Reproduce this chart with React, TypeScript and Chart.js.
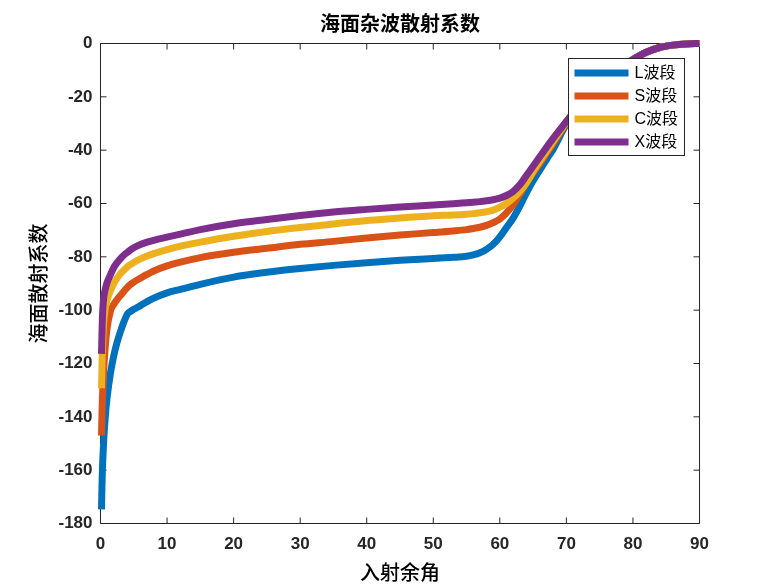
import React, { useEffect, useRef } from "react";
import { Chart, registerables } from "chart.js";

Chart.register(...registerables);

const chartTitle = "海面杂波散射系数";
const xAxisTitle = "入射余角";
const yAxisTitle = "海面散射系数";
const bandLabels = ["L波段", "S波段", "C波段", "X波段"];
const bandColors = ["#0072BD", "#D95319", "#EDB120", "#7E2F8E"];

const xTickMin = 0;
const xTickMax = 90;
const xTickStep = 10;
const yTickMin = -180;
const yTickMax = 0;
const yTickStep = 20;

// grazing angle (deg)
const grazingAngles = [
  0.15, 0.25, 0.35, 0.5, 0.75, 1, 1.5, 2, 2.5, 3, 3.5, 4.1, 4.5, 5,
  6, 7, 8, 10, 12, 15, 20, 25, 30, 35, 40, 45, 50, 53, 55,
  56, 57, 58, 59, 60, 61, 62, 63, 64, 65, 66, 67, 68,
  70, 72, 74, 76, 78, 80, 82, 84, 86, 88, 90,
];

// values up to 70 deg (dB)
const lBand = [
  -174.7, -163, -155.8, -148, -139, -132.6, -123.5, -117, -112, -108, -104.5, -101.2, -100.5, -99.7,
  -98.3, -96.8, -95.5, -93.5, -92.2, -90.3, -87.6, -85.8, -84.4, -83.2, -82.2, -81.3, -80.6, -80.2, -79.8,
  -79.3, -78.5, -77.2, -75.3, -72.5, -69, -65.5, -61, -56, -51.5, -47.5, -43.5, -39.7,
  -30.2,
];
const sBand = [
  -147, -136, -129, -121.3, -112.7, -106.6, -100.3, -97.8, -96, -94.5, -93, -91.3, -90.4, -89.5,
  -88, -86.6, -85.3, -83.4, -82, -80.3, -78.3, -76.8, -75.3, -74.2, -72.9, -71.8, -70.9, -70.3, -69.8,
  -69.4, -68.9, -68.2, -67.2, -65.8, -63.5, -60.5, -56.5, -52.3, -48.6, -45, -41.3, -37.6,
  -29.8,
];
const cBand = [
  -129.3, -118, -111, -104, -98.8, -96, -92.6, -90, -88, -86.3, -85, -83.6, -82.9, -82.1,
  -80.8, -79.7, -78.8, -77.3, -76, -74.5, -72.3, -70.5, -69, -67.7, -66.4, -65.4, -64.6, -64.3, -64,
  -63.8, -63.5, -63.1, -62.5, -61.4, -60, -58, -55.5, -52.2, -48, -44.2, -40.5, -36.8,
  -29.5,
];
const xBand = [
  -116.4, -106, -99.5, -95, -91.8, -89.6, -86.7, -84, -82.2, -80.7, -79.4, -78.2, -77.4, -76.6,
  -75.4, -74.5, -73.8, -72.6, -71.5, -69.8, -67.6, -66, -64.5, -63.2, -62.2, -61.3, -60.6, -60.1, -59.7,
  -59.5, -59.3, -59, -58.6, -58, -57, -55.5, -53, -49.5, -46, -42.5, -39, -35.6,
  -29.2,
];
// common values from 72 to 90 deg (all bands coincide)
const convergedTail = [-22.9, -17.6, -13, -9.2, -6, -3.3, -1.5, -0.6, -0.15, 0];

const seriesValues = [lBand, sBand, cBand, xBand];

const axisColor = "#262626";
const numFont = '"Liberation Sans", Arial, sans-serif';
const cjkFont = '"Liberation Sans", "Noto Sans CJK SC", sans-serif';

const framePlugin = {
  id: "matlabFrame",
  beforeDatasetsDraw(chart: any) {
    const { ctx, chartArea: a, scales } = chart;
    const tl = 6;
    ctx.save();
    ctx.strokeStyle = axisColor;
    ctx.lineWidth = 1;
    ctx.beginPath();
    ctx.rect(a.left, a.top, a.right - a.left, a.bottom - a.top);
    for (const t of scales.x.ticks) {
      const px = scales.x.getPixelForValue(t.value);
      ctx.moveTo(px, a.bottom);
      ctx.lineTo(px, a.bottom - tl);
      ctx.moveTo(px, a.top);
      ctx.lineTo(px, a.top + tl);
    }
    for (const t of scales.y.ticks) {
      const py = scales.y.getPixelForValue(t.value);
      ctx.moveTo(a.left, py);
      ctx.lineTo(a.left + tl, py);
      ctx.moveTo(a.right, py);
      ctx.lineTo(a.right - tl, py);
    }
    ctx.stroke();
    ctx.restore();
  },
  afterDraw(chart: any) {
    const { ctx, chartArea: a } = chart;
    const cx = (a.left + a.right) / 2;
    const cy = (a.top + a.bottom) / 2;
    ctx.save();
    ctx.fillStyle = "#000";
    ctx.textAlign = "center";
    ctx.textBaseline = "middle";
    ctx.font = 'bold 20px "Noto Sans CJK SC", sans-serif';
    ctx.fillText(chartTitle, cx, 23);
    ctx.font = '500 20px "Noto Sans CJK SC", sans-serif';
    ctx.fillText(xAxisTitle, cx, 572);
    ctx.save();
    ctx.translate(38, cy);
    ctx.rotate(-Math.PI / 2);
    ctx.fillText(yAxisTitle, 0, 0);
    ctx.restore();

    // legend
    const bx = a.right - 131;
    const by = a.top + 15;
    const bw = 116;
    const bh = 97;
    ctx.fillStyle = "#fff";
    ctx.fillRect(bx, by, bw, bh);
    ctx.strokeStyle = axisColor;
    ctx.lineWidth = 1;
    ctx.strokeRect(bx, by, bw, bh);
    ctx.textAlign = "left";
    ctx.font = '16px ' + cjkFont;
    chart.data.datasets.forEach((ds: any, i: number) => {
      const y = by + 14.5 + i * 23;
      ctx.strokeStyle = ds.borderColor;
      ctx.lineWidth = 7;
      ctx.beginPath();
      ctx.moveTo(bx + 6, y);
      ctx.lineTo(bx + 60, y);
      ctx.stroke();
      ctx.fillStyle = "#000";
      ctx.fillText(ds.label, bx + 66, y + 1);
    });
    ctx.restore();
  },
};

export default function App() {
  const ref = useRef<HTMLCanvasElement>(null);
  useEffect(() => {
    document.body.style.margin = "0";
    const datasets = seriesValues.map((vals, i) => {
      const full = vals.concat(convergedTail);
      return {
        label: bandLabels[i],
        data: grazingAngles.map((x, k) => ({ x, y: full[k] })),
        borderColor: bandColors[i],
        backgroundColor: bandColors[i],
        borderWidth: 7,
        pointRadius: 0,
        fill: false,
        cubicInterpolationMode: "monotone" as const,
        clip: 5,
        order: seriesValues.length - 1 - i,
      };
    });
    const chart = new Chart(ref.current!, {
      type: "line",
      data: { datasets },
      plugins: [framePlugin],
      options: {
        animation: false,
        responsive: false,
        devicePixelRatio: 1,
        layout: { padding: { left: 0, top: 43.5, right: 72.5, bottom: 0 } },
        plugins: {
          legend: { display: false },
          title: { display: false },
          tooltip: { enabled: false },
        },
        scales: {
          x: {
            type: "linear",
            min: xTickMin,
            max: xTickMax,
            ticks: {
              stepSize: xTickStep,
              color: axisColor,
              font: { family: numFont, size: 17, weight: "bold" },
              padding: 11,
              maxRotation: 0,
            },
            grid: { display: false, drawTicks: false },
            border: { display: false },
            afterFit: (s: any) => {
              s.height = 64.5;
            },
          },
          y: {
            type: "linear",
            min: yTickMin,
            max: yTickMax,
            ticks: {
              stepSize: yTickStep,
              color: axisColor,
              font: { family: numFont, size: 17, weight: "bold" },
              padding: 8,
            },
            grid: { display: false, drawTicks: false },
            border: { display: false },
            afterFit: (s: any) => {
              s.width = 100.5;
            },
          },
        },
      },
    });
    return () => chart.destroy();
  }, []);
  return (
    <div style={{ width: 772, height: 588, background: "#fff" }}>
      <canvas ref={ref} width={772} height={588} style={{ display: "block" }} />
    </div>
  );
}
